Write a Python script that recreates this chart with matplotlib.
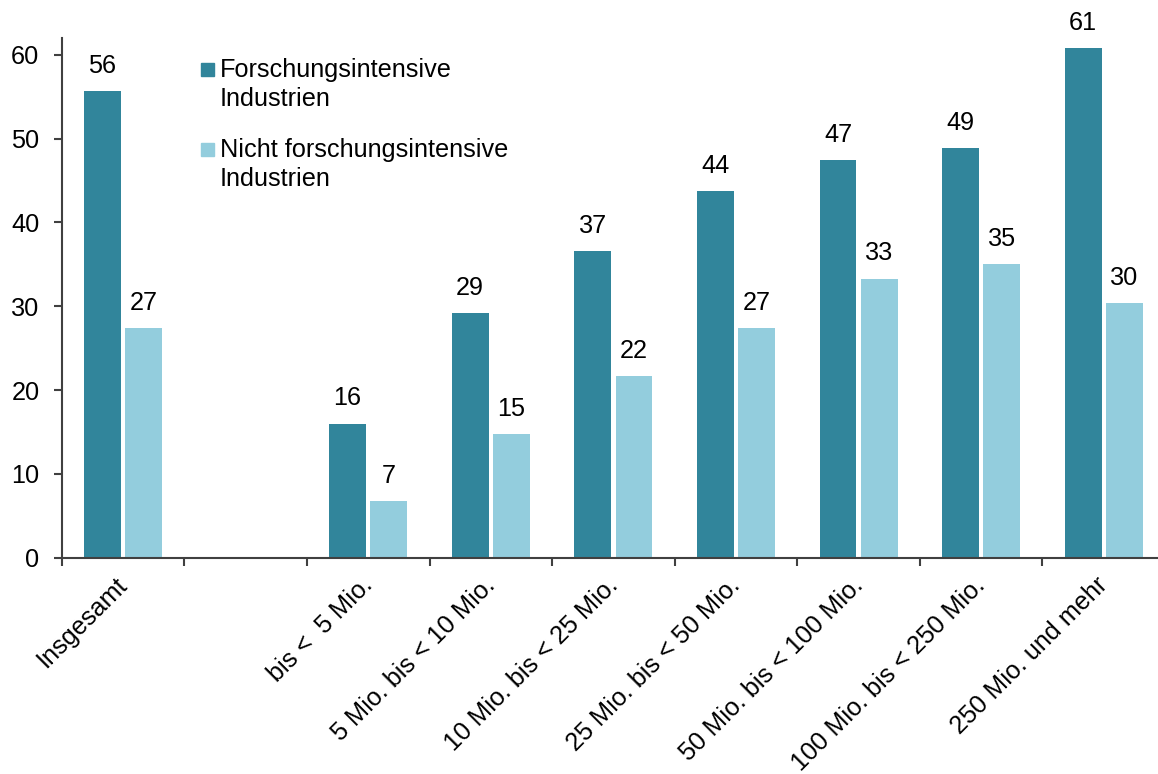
import numpy as np
import matplotlib

matplotlib.use("Agg")
import matplotlib.pyplot as plt
import matplotlib.transforms as mtransforms
from matplotlib.patches import Rectangle

categories = [
    "Insgesamt",
    "",
    "bis <  5 Mio.",
    "5 Mio. bis < 10 Mio.",
    "10 Mio. bis < 25 Mio.",
    "25 Mio. bis < 50 Mio.",
    "50 Mio. bis < 100 Mio.",
    "100 Mio. bis < 250 Mio.",
    "250 Mio. und mehr",
]
forschung = [55.7, np.nan, 16.0, 29.2, 36.6, 43.7, 47.4, 48.9, 60.8]
nicht_forschung = [27.4, np.nan, 6.8, 14.8, 21.7, 27.4, 33.3, 35.0, 30.4]
series_labels = ["Forschungsintensive\nIndustrien", "Nicht forschungsintensive\nIndustrien"]
y_ticks = [0, 10, 20, 30, 40, 50, 60]

DARK = "#31859B"
LIGHT = "#93CDDD"
AXIS_COLOR = "#404040"
FS = 18.2

plt.rcParams["font.family"] = ["Liberation Sans", "DejaVu Sans"]
plt.rcParams["font.size"] = FS

fig = plt.figure(figsize=(11.58, 7.74), dpi=100)
ax = fig.add_axes([0.0533, 0.2795, 0.9528, 0.6715])

centers = np.arange(len(categories)) + 0.5
offset = 0.168
width = 0.30

bars_dark = ax.bar(centers - offset, forschung, width, color=DARK, linewidth=0)
bars_light = ax.bar(centers + offset, nicht_forschung, width, color=LIGHT, linewidth=0)

for bars, values in [(bars_dark, forschung), (bars_light, nicht_forschung)]:
    for bar, val in zip(bars, values):
        if np.isnan(val):
            continue
        ax.annotate(
            f"{val:.0f}",
            (bar.get_x() + bar.get_width() / 2, val),
            xytext=(0, 13),
            textcoords="offset points",
            ha="center",
            va="baseline",
            fontsize=FS,
        )

ax.set_xlim(0, len(categories))
ax.set_ylim(0, 62)
ax.set_yticks(y_ticks)

# ticks at slot boundaries, labels at slot centers
ax.set_xticks(np.arange(len(categories) + 1))
ax.set_xticklabels([])
ax.set_xticks(centers, minor=True)
ax.set_xticklabels(categories, minor=True, rotation=45, ha="right", va="top",
                   rotation_mode="anchor")
ax.tick_params(axis="x", which="minor", length=0, pad=14)
ax.tick_params(axis="x", which="major", length=5.5, width=1.5, color=AXIS_COLOR, direction="out")
ax.tick_params(axis="y", length=6, width=1.5, color=AXIS_COLOR, pad=10, labelsize=FS)

# nudge rotated labels up-left a little
shift = mtransforms.ScaledTranslation(-0.08, 0.04, fig.dpi_scale_trans)
for lbl in ax.get_xticklabels(minor=True):
    lbl.set_transform(lbl.get_transform() + shift)

for side in ["top", "right"]:
    ax.spines[side].set_visible(False)
for side in ["left", "bottom"]:
    ax.spines[side].set_color(AXIS_COLOR)
    ax.spines[side].set_linewidth(1.5)

# legend drawn by hand to match the two-line entries
line_step = 30 / 519.7
legend_rows = [(0.9269, DARK), (0.773, LIGHT)]
for (y0, color), label in zip(legend_rows, series_labels):
    ax.add_patch(Rectangle((0.1262, y0), 0.0118, 0.025, transform=ax.transAxes,
                           color=color, clip_on=False))
    ax.text(0.1435, y0 - line_step, label, transform=ax.transAxes, ha="left",
            va="baseline", fontsize=FS, linespacing=1.28)

fig.savefig("out.png", dpi=100)
